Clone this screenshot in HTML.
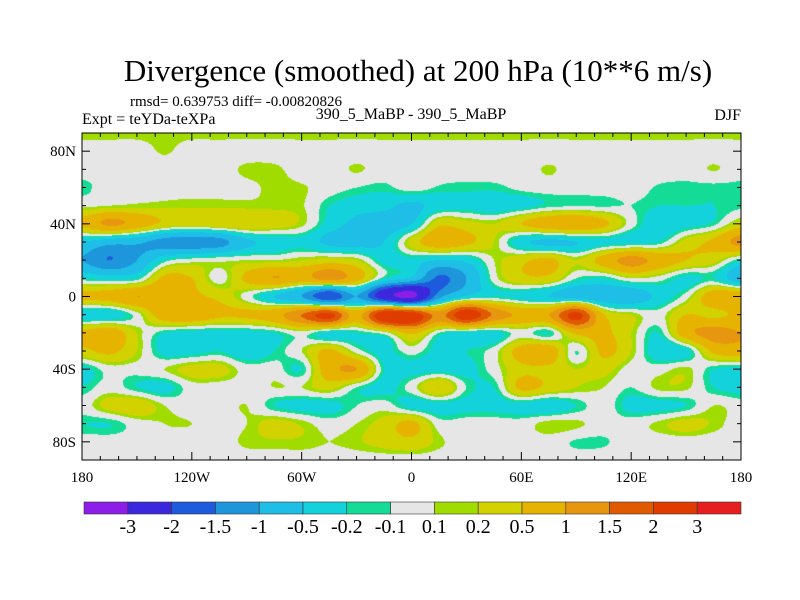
<!DOCTYPE html>
<html><head><meta charset="utf-8"><style>
body{margin:0;background:#fff;width:800px;height:600px;overflow:hidden;position:relative;font-family:"Liberation Serif",serif;}
.t{position:absolute;white-space:nowrap;color:#000}
</style></head><body>
<div class="t" style="left:0;width:836px;text-align:center;top:53px;font-size:31px">Divergence (smoothed) at 200 hPa (10**6 m/s)</div>
<div class="t" style="left:130px;top:94px;font-size:15px">rmsd= 0.639753 diff= -0.00820826</div>
<div class="t" style="left:82px;top:111px;font-size:16px">Expt = teYDa-teXPa</div>
<div class="t" style="left:0;width:822px;text-align:center;top:106px;font-size:16px">390_5_MaBP - 390_5_MaBP</div>
<div class="t" style="right:59px;top:107px;font-size:16px">DJF</div>
<canvas id="map" width="659" height="327" style="position:absolute;left:82px;top:133px"></canvas>
<svg id="ax" width="800" height="600" style="position:absolute;left:0;top:0"></svg>
<script>
const levels=[-3,-2,-1.5,-1,-0.5,-0.2,-0.1,0.1,0.2,0.5,1,1.5,2,3];
const levelLabels=["-3","-2","-1.5","-1","-0.5","-0.2","-0.1","0.1","0.2","0.5","1","1.5","2","3"];
const colors=["#8c1ee8","#3c28dc","#1e5adc","#1e96dc","#1ebee6","#14d2dc","#14dc96","#e6e6e6","#a0dc00","#d2d200","#e6b400","#e6960f","#e05a00","#e03c00","#e61e1e"];
const lats=[90,80,70,60,50,40,30,20,10,0,-10,-20,-30,-40,-50,-60,-70,-80,-90];
const lons=[-180,-165,-150,-135,-120,-105,-90,-75,-60,-45,-30,-15,0,15,30,45,60,75,90,105,120,135,150,165,180];
const latTicks=[80,40,0,-40,-80];
const latTickLabels=["80N","40N","0","40S","80S"];
const lonTicks=[-180,-120,-60,0,60,120,180];
const lonTickLabels=["180","120W","60W","0","60E","120E","180"];
const divergence=[
[0.15,0.15,0.15,0.15,0.15,0.15,0.15,0.15,0.15,0.15,0.15,0.15,0.15,0.15,0.15,0.15,0.15,0.15,0.15,0.15,0.15,0.15,0.15,0.15,0.15],
[0,0,0,0.12,0,0,0,0,0,0,0,0,0,0,0,0,0,0,0,0,0,0,0,0,0],
[0,0,0,0,0,0,0.14,0.14,0,0,0.12,0,0,0,0,0,0,0.12,0,0,0,0,0,0.11,0],
[-0.15,0,0,0,0,0,0.05,0.14,0.12,0,-0.1,-0.15,0,-0.12,-0.15,-0.15,-0.05,0,0,0,0,-0.12,-0.15,-0.15,-0.15],
[0.05,0.1,0.14,0.15,0.17,0.17,0.15,0.15,0.12,-0.2,-0.35,-0.4,-0.6,-0.35,-0.3,-0.4,-0.3,-0.15,-0.12,-0.12,-0.1,-0.2,-0.2,-0.2,-0.15],
[0.6,1.1,0.8,0.4,0.3,0.4,0.45,0.35,0.15,-0.3,-0.6,-0.7,-0.5,0.4,0.3,0.2,0.5,0.8,0.9,0.6,0,-0.4,-0.3,-0.15,0.3],
[-0.5,-0.8,-0.9,-1.2,-1.3,-1.2,-0.6,-0.4,-0.3,-0.6,-0.7,-0.5,0.3,0.8,0.6,0.2,-0.4,-0.6,-0.5,-0.3,-0.3,-0.2,0.3,0.6,1.2],
[-1.0,-1.5,-1.0,-0.2,0,0.05,0.1,0.1,0.2,0.3,0.2,-0.3,-0.3,-0.5,-0.4,0.1,0.4,0.6,0.2,0.7,1.2,0.8,0.5,0.3,-0.2],
[-0.2,-0.3,-0.2,0.6,0.5,0,0.6,1.0,0.8,1.2,0.7,-0.2,-0.6,-1.6,-1.0,0,0.4,0.4,-0.1,-0.2,0.1,0,-0.3,-0.2,-0.8],
[0.6,0.7,1.0,0.8,0.6,0.4,0,-0.5,-1.0,-2.0,-1.0,-2.5,-3.2,-1.2,-0.4,-0.2,-0.3,-0.5,-0.7,-0.8,-0.8,-0.4,0,0.8,0.9],
[-0.4,-0.4,0,0.8,0.9,0.6,0.6,0.8,1.5,2.2,0.8,2.6,2.5,1.3,2.5,1.4,0.9,1.0,2.2,0.5,0.2,0,0.5,0.4,0.6],
[0.6,0.8,0.2,-0.2,-0.3,-0.3,-0.3,-0.2,0,-0.3,-0.2,0,0.6,-0.1,-0.3,-0.3,0,-0.2,0.6,0.6,0.2,-0.2,0.8,1.2,1.0],
[0.4,0.6,0.2,-0.3,-0.3,-0.2,-0.4,-0.2,0.1,0.6,0,-0.3,0,-0.3,-0.2,0,0.7,0.8,-0.1,0.6,0.2,-0.4,-0.3,0.6,0.8],
[-0.3,0,0,0.1,0.3,0.3,0,0,-0.2,0.8,1.0,-0.2,-0.3,-0.3,-0.3,0,0.4,0.4,0.2,0.3,0,0,0.15,-0.2,-0.3],
[-0.2,0,-0.2,-0.3,0,0,0,0.1,0.1,0.3,-0.1,-0.3,0,0.5,-0.1,-0.2,0.6,0.4,0.2,0.1,-0.1,0.15,0.14,-0.2,-0.3],
[0,0.3,0.4,0.1,0,0,0.1,-0.2,-0.3,-0.3,-0.1,0,-0.3,-0.3,-0.3,-0.3,-0.3,-0.4,-0.2,0,-0.3,-0.3,-0.2,0.1,0],
[-0.2,-0.2,0,0.1,0.1,0,0.1,0.3,0.17,0,0.1,0.3,0.6,0,0,0,0,0.17,0.14,0,0,0.14,0.3,0.17,0],
[0,0,0,0,0,0,0.14,0.17,0.17,0.1,0.17,0.3,0.4,0.14,0,0,0,0,-0.12,-0.12,0,0,0,0,0],
[0,0,0,0,0,0,0,0,0,0,0,0,0,0,0,0,0,0,0,0,0,0,0,0,0]
];
const X0=82,X1=741,Y0=133,Y1=460;
function xOf(lon){return X0+(lon+180)/360*(X1-X0);}
function yOf(lat){return Y0+(90-lat)/180*(Y1-Y0);}
function cr(p0,p1,p2,p3,t){return 0.5*(2*p1+(-p0+p2)*t+(2*p0-5*p1+4*p2-p3)*t*t+(-p0+3*p1-3*p2+p3)*t*t*t);}
function g(i,j){i=Math.max(0,Math.min(lats.length-1,i));j=Math.max(0,Math.min(lons.length-1,j));return divergence[i][j];}
function sample(fi,fj){const i=Math.floor(fi),j=Math.floor(fj),ti=fi-i,tj=fj-j;const r=[];for(let k=-1;k<3;k++){r.push(cr(g(i+k,j-1),g(i+k,j),g(i+k,j+1),g(i+k,j+2),tj));}return cr(r[0],r[1],r[2],r[3],ti);}
function colorIdx(v){let k=0;while(k<levels.length&&v>=levels[k])k++;return k;}
const rgb=colors.map(c=>[parseInt(c.slice(1,3),16),parseInt(c.slice(3,5),16),parseInt(c.slice(5,7),16)]);
(function(){const cv=document.getElementById('map'),ctx=cv.getContext('2d');const W=cv.width,H=cv.height;const img=ctx.createImageData(W,H);
const dLat=lats[0]-lats[1],dLon=lons[1]-lons[0];
for(let y=0;y<H;y++){const lat=90-(y+0.5)/H*180;const fi=(lats[0]-lat)/dLat;
for(let x=0;x<W;x++){const lon=-180+(x+0.5)/W*360;const fj=(lon-lons[0])/dLon;
const v=sample(fi,fj);const k=colorIdx(v);let c=rgb[k];
const o=(y*W+x)*4;img.data[o]=c[0];img.data[o+1]=c[1];img.data[o+2]=c[2];img.data[o+3]=255;}}
ctx.putImageData(img,0,0);})();
const NS='http://www.w3.org/2000/svg';const svg=document.getElementById('ax');
function mk(t,a){const e=document.createElementNS(NS,t);for(const k in a)e.setAttribute(k,a[k]);svg.appendChild(e);return e;}
let fr=mk('rect',{x:X0,y:Y0,width:X1-X0,height:Y1-Y0,fill:'none',stroke:'#000','stroke-width':1});


for(let lon=-180;lon<=180;lon+=10){const x=xOf(lon);const L=(lon%60===0)?8:4;
mk('line',{x1:x,y1:Y1,x2:x,y2:Y1-L,stroke:'#000'});mk('line',{x1:x,y1:Y0,x2:x,y2:Y0+L,stroke:'#000'});}
for(let lat=-90;lat<=90;lat+=10){const y=yOf(lat);const L=(lat%40===0&&Math.abs(lat)!==90)?8:4;
mk('line',{x1:X0,y1:y,x2:X0+L,y2:y,stroke:'#000'});mk('line',{x1:X1,y1:y,x2:X1-L,y2:y,stroke:'#000'});}
latTicks.forEach((lat,i)=>{const t=mk('text',{x:X0-6,y:yOf(lat)+5,'text-anchor':'end','font-size':15,'font-family':'Liberation Serif'});t.textContent=latTickLabels[i];

});
lonTicks.forEach((lon,i)=>{const t=mk('text',{x:xOf(lon),y:482,'text-anchor':'middle','font-size':15,'font-family':'Liberation Serif'});t.textContent=lonTickLabels[i];

});
const CB0=84,CB1=741,CBY=502,CBH=12,bw=(CB1-CB0)/colors.length;
colors.forEach((c,k)=>{const r=mk('rect',{x:CB0+k*bw,y:CBY,width:bw,height:CBH,fill:c,stroke:'#333','stroke-width':0.6});

});
levelLabels.forEach((s,k)=>{const t=mk('text',{x:CB0+(k+1)*bw,y:533,'text-anchor':'middle','font-size':20,'font-family':'Liberation Serif'});t.textContent=s;

});
</script>
</body></html>
